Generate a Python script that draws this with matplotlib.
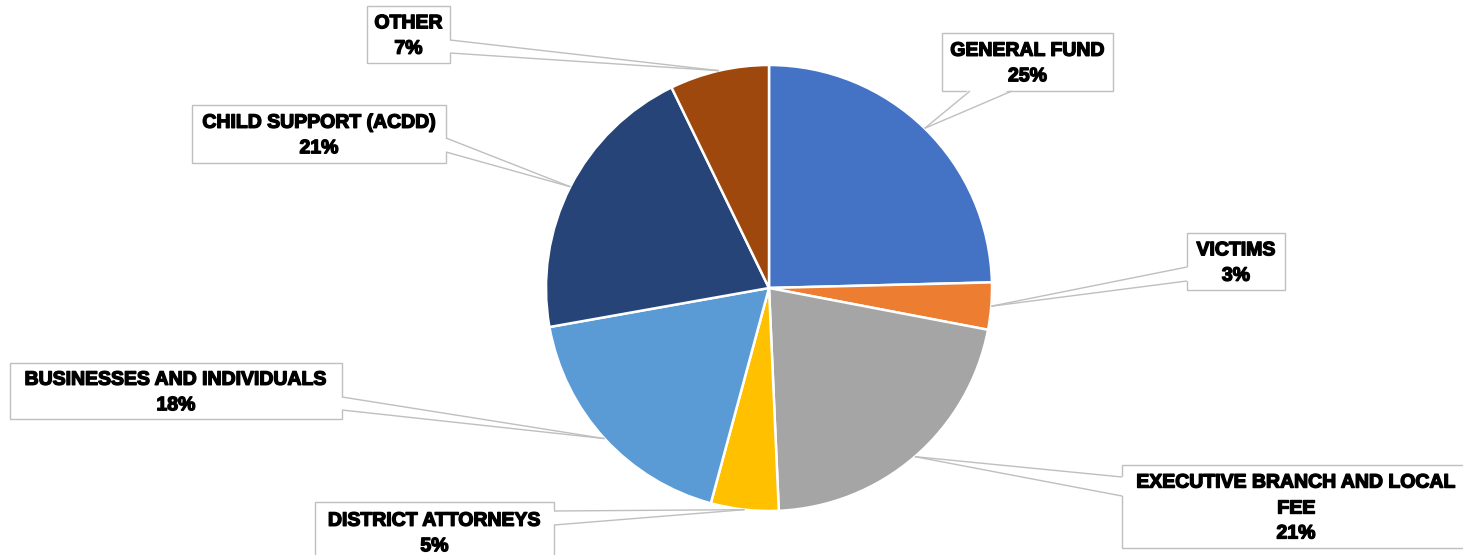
import numpy as np
import matplotlib.pyplot as plt
from matplotlib.patches import Rectangle, Polygon
import matplotlib.patheffects as pe

# Data
categories = ['GENERAL FUND', 'VICTIMS', 'EXECUTIVE BRANCH AND LOCAL\nFEE', 'DISTRICT ATTORNEYS',
              'BUSINESSES AND INDIVIDUALS', 'CHILD SUPPORT (ACDD)', 'OTHER']
shares = [24.6, 3.4, 21.3, 4.9, 18.0, 20.6, 7.2]
colors = ['#4472C4', '#ED7D31', '#A5A5A5', '#FFC000', '#5B9BD5', '#264478', '#9E480E']

W, H = 1463, 555
# callout boxes in pixels: (left, top, right, bottom), pointer side, pointer base
boxes = [
    ((942, 33, 1113, 91), 'bottom', (970, 1012)),
    ((1187, 233, 1285, 290), 'left', (267, 281)),
    ((1122, 465, 1470, 548), 'left', (477, 496)),
    ((315, 502, 554, 562), 'right', (511, 525)),
    ((10, 363, 342, 419), 'right', (397, 410)),
    ((192, 105, 446, 163), 'right', (138, 152)),
    ((367, 6, 450, 63), 'right', (40, 53)),
]

fig = plt.figure(figsize=(W / 100, H / 100), dpi=100)
ax = fig.add_axes([0, 0, 1, 1])

cx, cy, r = 769, H - 288, 223
wedges, _ = ax.pie(shares, colors=colors, startangle=90, counterclock=False,
                   center=(cx, cy), radius=r,
                   wedgeprops=dict(edgecolor='white', linewidth=1.8))
ax.set_xlim(0, W)
ax.set_ylim(0, H)
ax.set_aspect('auto')
ax.axis('off')

line_col = '#BFBFBF'
for w, cat, val, (box, side, base) in zip(wedges, categories, shares, boxes):
    mid = np.deg2rad((w.theta1 + w.theta2) / 2)
    tip = (cx + r * np.cos(mid), cy + r * np.sin(mid))
    x0, y0, x1, y1 = box[0], H - box[3], box[2], H - box[1]
    ax.add_patch(Rectangle((x0, y0), x1 - x0, y1 - y0, facecolor='white',
                           edgecolor=line_col, linewidth=1.0, zorder=3))
    a, b = base
    if side == 'right':
        p1, p2 = (x1, H - a), (x1, H - b)
        q1, q2 = (x1 - 2, H - a), (x1 - 2, H - b)
    elif side == 'left':
        p1, p2 = (x0, H - a), (x0, H - b)
        q1, q2 = (x0 + 2, H - a), (x0 + 2, H - b)
    else:
        p1, p2 = (a, y0), (b, y0)
        q1, q2 = (a, y0 + 2), (b, y0 + 2)
    ax.add_patch(Polygon([tip, q1, q2], closed=True, facecolor='white',
                         edgecolor='none', zorder=4))
    for p in (p1, p2):
        ax.plot([p[0], tip[0]], [p[1], tip[1]], color=line_col, linewidth=1.0,
                zorder=5, solid_capstyle='butt')
    label = f"{cat}\n{round(val):.0f}%"
    ax.text((x0 + x1) / 2, (y0 + y1) / 2 - 2, label, ha='center', va='center',
            fontsize=14, fontweight='bold', family=['Liberation Sans', 'DejaVu Sans'],
            linespacing=1.65, zorder=6,
            path_effects=[pe.withStroke(linewidth=1.0, foreground='black')])

fig.savefig('out.png', dpi=100)
